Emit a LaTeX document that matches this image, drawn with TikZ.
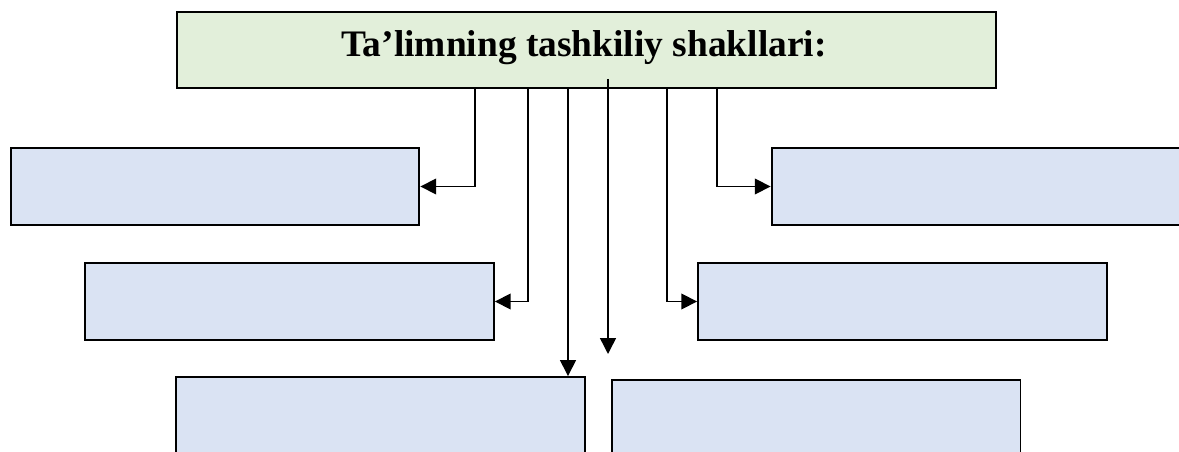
\documentclass[tikz,border=0pt]{standalone}
\usepackage{fontspec}
\setmainfont{Liberation Serif}
\usepackage{xcolor}
\usetikzlibrary{arrows.meta}

\definecolor{headgreen}{HTML}{E2EFDA}
\definecolor{boxblue}{HTML}{DAE3F3}

\begin{document}
\begin{tikzpicture}[x=0.02cm,y=-0.02cm,
        formbox/.style={draw=black,line width=1.1pt,fill=boxblue,minimum width=8.18cm,minimum height=1.54cm,inner sep=0pt},
        headbox/.style={draw=black,line width=1.1pt,fill=headgreen,minimum width=16.38cm,minimum height=1.52cm,inner sep=0pt},
        arr/.style={line width=0.85pt,-{Triangle[length=9pt,width=9pt]}}]
        \useasboundingbox (0,0) rectangle (1179,452);
        \clip (0,0) rectangle (1179,452);

        \node[headbox] (top) at (586.5,50) {};
        \node[font=\bfseries\fontsize{21.3}{25}\selectfont,anchor=base] (title) at (584,57) {Ta’limning tashkiliy shakllari:};

        \node[formbox] (l1) at (215,186.5) {};
        \node[formbox] (r1) at (976,186.5) {};
        \node[formbox] (l2) at (289.5,301.5) {};
        \node[formbox] (r2) at (902.5,301.5) {};
        \node[formbox] (b1) at (380.5,415.5) {};
        \node[formbox] (b2) at (816,418.5) {};

        \coordinate (s1) at (475,0);
        \coordinate (s2) at (528,0);
        \coordinate (s3) at (568,0);
        \coordinate (s4) at (608,0);
        \coordinate (s5) at (667,0);
        \coordinate (s6) at (717,0);
        \coordinate (c4) at (608,354);

        \draw[arr] (top.south -| s1) |- (l1.east);
        \draw[arr] (top.south -| s2) |- (l2.east);
        \draw[arr] (top.south -| s3) -- (b1.north -| s3);
        \draw[arr] ([yshift=0.2cm]top.south -| s4) -- (c4);
        \draw[arr] (top.south -| s5) |- (r2.west);
        \draw[arr] (top.south -| s6) |- (r1.west);
    \end{tikzpicture}
\end{document}
